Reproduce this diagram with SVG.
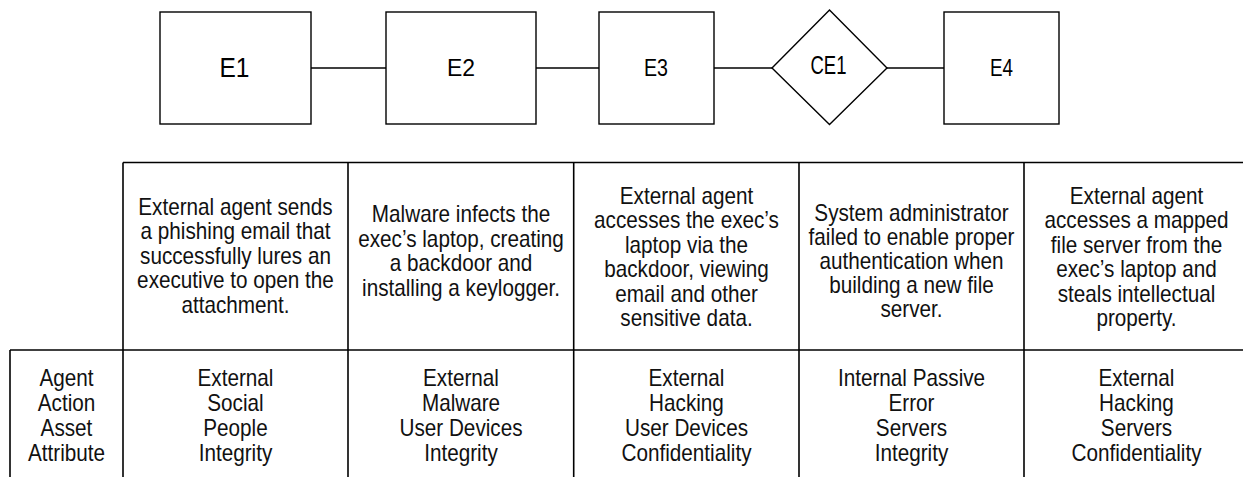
<svg xmlns="http://www.w3.org/2000/svg" width="1243" height="477" viewBox="0 0 1243 477">
<style>
.box{fill:#fff;stroke:#000;stroke-width:1.4}
.conn{stroke:#000;stroke-width:1.4;fill:none}
.grid{stroke:#000;stroke-width:1.6;fill:none}
.lbl{font-family:"Liberation Sans",Arial,sans-serif;fill:#000;text-anchor:middle}
.cell{font-family:"Liberation Sans",Arial,sans-serif;font-size:23px;fill:#111;text-anchor:middle}
</style>
<rect width="1243" height="477" fill="#fff"/>
<g id="connectors">
<line class="conn" x1="311" y1="68" x2="386" y2="68"/>
<line class="conn" x1="536" y1="68" x2="599" y2="68"/>
<line class="conn" x1="714" y1="68" x2="772" y2="68"/>
<line class="conn" x1="887" y1="68" x2="944" y2="68"/>
</g>
<g id="E1">
<rect class="box" x="160" y="12" width="151" height="112"/>
<text class="lbl" x="234.5" y="77" font-size="28" textLength="30" lengthAdjust="spacingAndGlyphs">E1</text>
</g>
<g id="E2">
<rect class="box" x="386" y="12" width="150" height="112"/>
<text class="lbl" x="461" y="76" font-size="24" textLength="28" lengthAdjust="spacingAndGlyphs">E2</text>
</g>
<g id="E3">
<rect class="box" x="599" y="12" width="115" height="112"/>
<text class="lbl" x="656" y="76" font-size="24" textLength="24" lengthAdjust="spacingAndGlyphs">E3</text>
</g>
<g id="CE1">
<polygon class="box" points="829.5,10 887,68 829.5,124.5 772,68"/>
<text class="lbl" x="828.5" y="74" font-size="26" textLength="36" lengthAdjust="spacingAndGlyphs">CE1</text>
</g>
<g id="E4">
<rect class="box" x="944" y="12" width="115" height="112"/>
<text class="lbl" x="1001.5" y="76" font-size="24" textLength="23" lengthAdjust="spacingAndGlyphs">E4</text>
</g>
<g id="table">
<line class="grid" x1="123" y1="162.5" x2="1243" y2="162.5"/>
<line class="grid" x1="10" y1="350" x2="1243" y2="350"/>
<line class="grid" x1="10" y1="350" x2="10" y2="477"/>
<line class="grid" x1="123" y1="162.5" x2="123" y2="477"/>
<line class="grid" x1="348" y1="162.5" x2="348" y2="477"/>
<line class="grid" x1="573.7" y1="162.5" x2="573.7" y2="477"/>
<line class="grid" x1="799" y1="162.5" x2="799" y2="477"/>
<line class="grid" x1="1024" y1="162.5" x2="1024" y2="477"/>
</g>
<g id="desc-E1" transform="translate(235.5,0) scale(0.9,1)">
<text class="cell" x="0" y="215">External agent sends</text>
<text class="cell" x="0" y="239.5">a phishing email that</text>
<text class="cell" x="0" y="264">successfully lures an</text>
<text class="cell" x="0" y="288.5">executive to open the</text>
<text class="cell" x="0" y="313">attachment.</text>
</g>
<g id="desc-E2" transform="translate(461,0) scale(0.9,1)">
<text class="cell" x="0" y="222.5">Malware infects the</text>
<text class="cell" x="0" y="247">exec’s laptop, creating</text>
<text class="cell" x="0" y="271.5">a backdoor and</text>
<text class="cell" x="0" y="296">installing a keylogger.</text>
</g>
<g id="desc-E3" transform="translate(686.5,0) scale(0.9,1)">
<text class="cell" x="0" y="204">External agent</text>
<text class="cell" x="0" y="228.5">accesses the exec’s</text>
<text class="cell" x="0" y="253">laptop via the</text>
<text class="cell" x="0" y="277.5">backdoor, viewing</text>
<text class="cell" x="0" y="302">email and other</text>
<text class="cell" x="0" y="326.5">sensitive data.</text>
</g>
<g id="desc-CE1" transform="translate(911.5,0) scale(0.9,1)">
<text class="cell" x="0" y="221">System administrator</text>
<text class="cell" x="0" y="245">failed to enable proper</text>
<text class="cell" x="0" y="269">authentication when</text>
<text class="cell" x="0" y="293">building a new file</text>
<text class="cell" x="0" y="317">server.</text>
</g>
<g id="desc-E4" transform="translate(1136.5,0) scale(0.9,1)">
<text class="cell" x="0" y="204">External agent</text>
<text class="cell" x="0" y="228.5">accesses a mapped</text>
<text class="cell" x="0" y="253">file server from the</text>
<text class="cell" x="0" y="277.5">exec’s laptop and</text>
<text class="cell" x="0" y="302">steals intellectual</text>
<text class="cell" x="0" y="326.5">property.</text>
</g>
<g id="labels" transform="translate(66.5,0) scale(0.9,1)">
<text class="cell" x="0" y="386.5">Agent</text>
<text class="cell" x="0" y="411.5">Action</text>
<text class="cell" x="0" y="436.5">Asset</text>
<text class="cell" x="0" y="461.5">Attribute</text>
</g>
<g id="attr-E1" transform="translate(235.5,0) scale(0.9,1)">
<text class="cell" x="0" y="386.5">External</text>
<text class="cell" x="0" y="411.5">Social</text>
<text class="cell" x="0" y="436.5">People</text>
<text class="cell" x="0" y="461.5">Integrity</text>
</g>
<g id="attr-E2" transform="translate(461,0) scale(0.9,1)">
<text class="cell" x="0" y="386.5">External</text>
<text class="cell" x="0" y="411.5">Malware</text>
<text class="cell" x="0" y="436.5">User Devices</text>
<text class="cell" x="0" y="461.5">Integrity</text>
</g>
<g id="attr-E3" transform="translate(686.5,0) scale(0.9,1)">
<text class="cell" x="0" y="386.5">External</text>
<text class="cell" x="0" y="411.5">Hacking</text>
<text class="cell" x="0" y="436.5">User Devices</text>
<text class="cell" x="0" y="461.5">Confidentiality</text>
</g>
<g id="attr-CE1" transform="translate(911.5,0) scale(0.9,1)">
<text class="cell" x="0" y="386.5">Internal Passive</text>
<text class="cell" x="0" y="411.5">Error</text>
<text class="cell" x="0" y="436.5">Servers</text>
<text class="cell" x="0" y="461.5">Integrity</text>
</g>
<g id="attr-E4" transform="translate(1136.5,0) scale(0.9,1)">
<text class="cell" x="0" y="386.5">External</text>
<text class="cell" x="0" y="411.5">Hacking</text>
<text class="cell" x="0" y="436.5">Servers</text>
<text class="cell" x="0" y="461.5">Confidentiality</text>
</g>
</svg>
